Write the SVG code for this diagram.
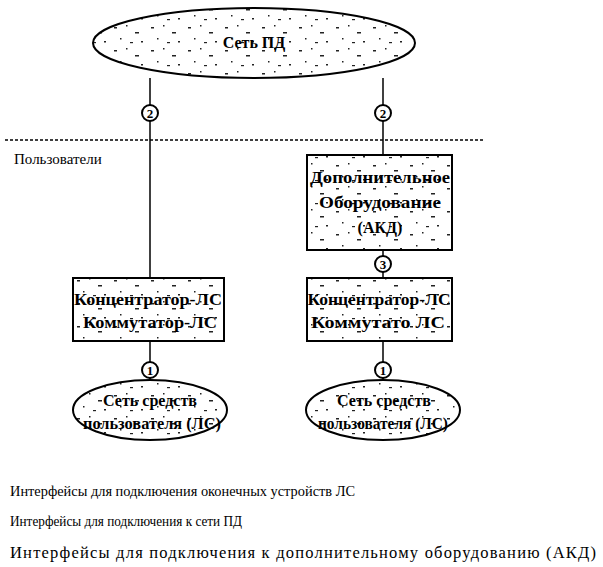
<svg xmlns="http://www.w3.org/2000/svg" width="603" height="567" viewBox="0 0 603 567" font-family="Liberation Serif, Times New Roman, DejaVu Serif, serif">
<style>
text{font-family:"Liberation Serif","Times New Roman","DejaVu Serif",serif}
.shape{fill:url(#speck);stroke:#000;stroke-width:2}
.lbl{font-weight:bold;font-size:16px;fill:#000;text-anchor:middle}
.num{font-weight:bold;font-size:13px;fill:#000;text-anchor:middle}
.txt{font-size:15px;fill:#000}
.ring{fill:#fff;stroke:#000;stroke-width:2}
.conn{stroke:#000;stroke-width:1.5;fill:none}
</style>
<defs>
<pattern id="speck" width="37" height="23" patternUnits="userSpaceOnUse">
<rect width="37" height="23" fill="#fff"/>
<rect x="3" y="4" width="3" height="1.5" fill="#222"/>
<rect x="15" y="2" width="1.5" height="1.5" fill="#222"/>
<rect x="24" y="9" width="4" height="1.5" fill="#222"/>
<rect x="9" y="15" width="1.5" height="1.5" fill="#222"/>
<rect x="30" y="18" width="2" height="1.5" fill="#222"/>
<rect x="19" y="19" width="3" height="1.2" fill="#222"/>
</pattern>
</defs>
<g id="connectors">
<line class="conn" x1="150" y1="78" x2="150" y2="278"/>
<line class="conn" x1="383" y1="78" x2="383" y2="155"/>
<line class="conn" x1="383" y1="250" x2="383" y2="278"/>
<line class="conn" x1="150" y1="341" x2="150" y2="380"/>
<line class="conn" x1="383" y1="341" x2="383" y2="380"/>
<line x1="5" y1="140" x2="485" y2="140" stroke="#000" stroke-width="1.5" stroke-dasharray="3,2"/>
</g>
<g id="net-pd">
<ellipse class="shape" cx="254" cy="43" rx="161" ry="35"/>
<text class="lbl" x="254" y="48">Сеть ПД</text>
</g>
<g id="users-label">
<text class="txt" x="14" y="164">Пользователи</text>
</g>
<g id="akd">
<rect class="shape" x="307" y="155" width="145" height="95"/>
<text class="lbl" x="380" y="183" textLength="140" lengthAdjust="spacingAndGlyphs">Дополнительное</text>
<text class="lbl" x="380" y="208" textLength="122" lengthAdjust="spacingAndGlyphs">Оборудование</text>
<text class="lbl" x="380" y="233">(АКД)</text>
</g>
<g id="hub-left">
<rect class="shape" x="73" y="278" width="151" height="63"/>
<text class="lbl" x="148" y="305" textLength="148" lengthAdjust="spacingAndGlyphs">Концентратор-ЛС</text>
<text class="lbl" x="150" y="328" textLength="134" lengthAdjust="spacingAndGlyphs">Коммутатор-ЛС</text>
</g>
<g id="hub-right">
<rect class="shape" x="307" y="278" width="145" height="63"/>
<text class="lbl" x="379" y="305" textLength="143" lengthAdjust="spacingAndGlyphs">Концентратор-ЛС</text>
<text class="lbl" x="378" y="328" textLength="134" lengthAdjust="spacingAndGlyphs">Коммутато  ЛС</text>
</g>
<g id="lan-left">
<ellipse class="shape" cx="150" cy="410" rx="77" ry="30"/>
<text class="lbl" x="150" y="406" textLength="94" lengthAdjust="spacingAndGlyphs">Сеть средств</text>
<text class="lbl" x="152" y="429" textLength="138" lengthAdjust="spacingAndGlyphs">пользователя (ЛС)</text>
</g>
<g id="lan-right">
<ellipse class="shape" cx="383" cy="410" rx="77" ry="30"/>
<text class="lbl" x="384" y="406" textLength="94" lengthAdjust="spacingAndGlyphs">Сеть средств</text>
<text class="lbl" x="383" y="429" textLength="130" lengthAdjust="spacingAndGlyphs">пользователя (ЛС)</text>
</g>
<g id="if2-left"><circle class="ring" cx="150" cy="113" r="8"/><text class="num" x="150" y="118">2</text></g>
<g id="if2-right"><circle class="ring" cx="383" cy="113" r="8"/><text class="num" x="383" y="118">2</text></g>
<g id="if3"><circle class="ring" cx="383" cy="264" r="8"/><text class="num" x="383" y="269">3</text></g>
<g id="if1-left"><circle class="ring" cx="150" cy="370" r="8"/><text class="num" x="150" y="375">1</text></g>
<g id="if1-right"><circle class="ring" cx="383" cy="370" r="8"/><text class="num" x="383" y="375">1</text></g>
<g id="legend">
<text class="txt" x="10" y="496" textLength="345" lengthAdjust="spacingAndGlyphs">Интерфейсы для подключения оконечных устройств ЛС</text>
<text class="txt" x="10" y="526" textLength="232" lengthAdjust="spacingAndGlyphs">Интерфейсы для подключения к сети ПД</text>
<text class="txt" x="10" y="558" style="font-size:16.5px" textLength="586" lengthAdjust="spacing">Интерфейсы для подключения к дополнительному оборудованию (АКД)</text>
</g>
</svg>
